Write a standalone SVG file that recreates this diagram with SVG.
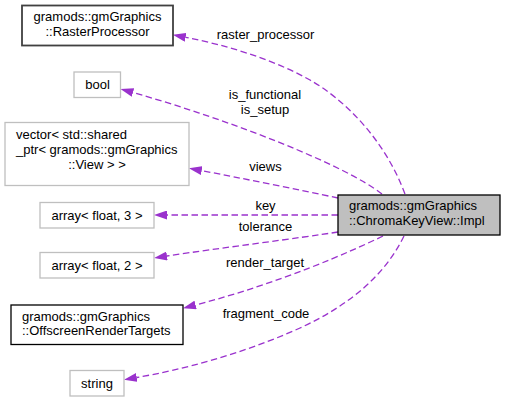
<svg xmlns="http://www.w3.org/2000/svg" width="505" height="402" viewBox="0 0 505 402">
<style>
text{font-family:"Liberation Sans",Arial,sans-serif;font-size:13px;fill:#000}
.m{text-anchor:middle}
.s{text-anchor:start}
.doc{fill:#fff;stroke:#000;stroke-width:1.3}
.docd{fill:#fff;stroke:#404040;stroke-width:1.8}
.und{fill:#fff;stroke:#bfbfbf;stroke-width:1.3}
.main{fill:#bfbfbf;stroke:#000;stroke-width:1.3}
.e{fill:none;stroke:#9a32cd;stroke-width:1.3;stroke-dasharray:6.5,3.5;marker-end:url(#ah)}
</style>
<defs>
<marker id="ah" viewBox="0 0 13 9" refX="0" refY="4.5" markerWidth="13" markerHeight="9" markerUnits="userSpaceOnUse" orient="auto">
<path d="M0,0 L13,4.5 L0,9 z" fill="#9a32cd"/>
</marker>
</defs>
<g id="connectors">
<path class="e" d="M405,194 C385,140 345,100 310,80 C270,58 225,45 185.6,37.3"/>
<path class="e" d="M382,194 C345,165 230,120 133,92.5"/>
<path class="e" d="M338,198 C300,190 240,178 201.7,170.6"/>
<path class="e" d="M338,215 L167,215"/>
<path class="e" d="M338,232 C300,238 220,248 167,256"/>
<path class="e" d="M383,236 C350,252 280,283 195.6,305"/>
<path class="e" d="M404,236 C385,275 350,305 300,328 C240,355 180,370 136.8,377.5"/>
<text class="m" x="265.5" y="39">raster_processor</text>
<text class="m" x="265" y="99">is_functional</text>
<text class="m" x="265" y="114">is_setup</text>
<text class="m" x="265.5" y="171">views</text>
<text class="m" x="265.5" y="210">key</text>
<text class="m" x="265.5" y="230.5">tolerance</text>
<text class="m" x="265" y="266.5">render_target</text>
<text class="m" x="266" y="317.5">fragment_code</text>
</g>
<g id="impl">
<rect class="main" x="338" y="195" width="162" height="40"/>
<text class="s" x="349" y="210">gramods::gmGraphics</text>
<text class="s" x="349" y="225">::ChromaKeyView::Impl</text>
</g>
<g id="rasterprocessor">
<rect class="docd" x="22" y="5.5" width="151" height="40"/>
<text class="m" x="97.5" y="21">gramods::gmGraphics</text>
<text class="m" x="97.5" y="36">::RasterProcessor</text>
</g>
<g id="bool">
<rect class="und" x="74" y="72" width="46.5" height="25.5"/>
<text class="m" x="97.5" y="89">bool</text>
</g>
<g id="vector">
<rect class="und" x="5" y="122.5" width="184" height="63"/>
<text class="s" x="16" y="139">vector&lt; std::shared</text>
<text class="s" x="16" y="154">_ptr&lt; gramods::gmGraphics</text>
<text class="m" x="97" y="169">::View &gt; &gt;</text>
</g>
<g id="array3">
<rect class="und" x="40" y="202.5" width="114" height="25.5"/>
<text class="m" x="97" y="219.5">array&lt; float, 3 &gt;</text>
</g>
<g id="array2">
<rect class="und" x="40" y="252.5" width="114" height="25.5"/>
<text class="m" x="97" y="269.5">array&lt; float, 2 &gt;</text>
</g>
<g id="offscreen">
<rect class="doc" x="11" y="305" width="172" height="39.5"/>
<text class="s" x="22" y="320.5">gramods::gmGraphics</text>
<text class="s" x="22" y="335">::OffscreenRenderTargets</text>
</g>
<g id="string">
<rect class="und" x="70" y="370.5" width="54" height="25.5"/>
<text class="m" x="97" y="387.5">string</text>
</g>
</svg>
